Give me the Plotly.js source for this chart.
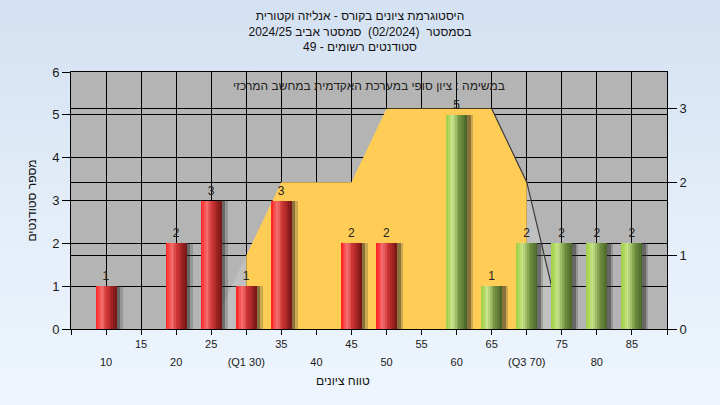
<!DOCTYPE html>
<html><head><meta charset="utf-8">
<script src="https://cdn.plot.ly/plotly-3.0.1.min.js"></script>
<style>
html,body{margin:0;padding:0;width:720px;height:405px;overflow:hidden;background:linear-gradient(to bottom,#d4e1f2 0%,#e4eef9 55%,#eef5fd 100%);}
#chart{width:720px;height:405px;}
</style></head><body><div id="chart"></div>
<script>
// ---- data ----
const categories = [10,15,20,25,30,35,40,45,50,55,60,65,70,75,80,85];
const counts     = [1,0,2,3,1,3,0,2,2,0,5,1,2,2,2,2];
const tickLabels = ['10','15','20','25','(Q1 30)','35','40','45','50','55','60','65','(Q3 70)','75','80','85'];
const passMark = 60;
const curveX = [25,30,35,40,45,50,55,60,65,70,75];
const curveY = [0,1,2,2,2,3,3,3,3,2,0];
const q1 = 30, q3 = 70;
const titleLines = ['היסטוגרמת ציונים בקורס - אנליזה וקטורית','בסמסטר  (02/2024)  סמסטר אביב 2024/25','סטודנטים רשומים - 49'];
const subTitle = 'במשימה : ציון סופי במערכת האקדמית במחשב המרכזי';
const yTitle = 'מספר סטודנטים';
const xTitle = 'טווח ציונים';

// ---- styling helpers ----
const FONT = 'Liberation Sans, Arial, sans-serif';
const redStops   = [[0,[255,28,28]],[0.3,[244,110,110]],[0.55,[205,52,52]],[1,[115,20,20]]];
const greenStops = [[0,[158,206,64]],[0.3,[202,228,140]],[0.6,[122,154,70]],[1,[70,96,38]]];
function grad(stops,t){
  for(let k=0;k<stops.length-1;k++){
    const [a,ca]=stops[k],[b,cb]=stops[k+1];
    if(t<=b){const f=(t-a)/(b-a);return 'rgb('+ca.map((c,j)=>Math.round(c+(cb[j]-c)*f)).join(',')+')';}
  }
  const c=stops[stops.length-1][1];return 'rgb('+c.join(',')+')';
}
const BW = 0.6*5, N = 12;
const traces = [];

// area (right axis)
traces.push({type:'scatter',x:curveX,y:curveY,mode:'lines',fill:'tozeroy',fillcolor:'rgba(255,255,255,0.16)',line:{width:0},xaxis:'x',yaxis:'y',hoverinfo:'skip',showlegend:false});
const inX=[],inY=[];
curveX.forEach((x,i)=>{if(x>=q1&&x<=q3){inX.push(x);inY.push(curveY[i]);}});
traces.push({type:'scatter',x:inX,y:inY,mode:'lines',fill:'tozeroy',fillcolor:'#ffcc55',line:{width:0},xaxis:'x',yaxis:'y',hoverinfo:'skip',showlegend:false});
const mx=Math.max(...curveY);let last=0;curveY.forEach((v,i)=>{if(v===mx)last=i;});
traces.push({type:'scatter',x:curveX.slice(last),y:curveY.slice(last),mode:'lines',line:{color:'#3a3a3a',width:1.2},xaxis:'x',yaxis:'y',hoverinfo:'skip',showlegend:false});

// shadows
traces.push({type:'bar',x:categories,y:counts,width:0.1*5,offset:0.3*5,marker:{color:'rgba(40,40,40,0.55)'},xaxis:'x',yaxis:'y2',hoverinfo:'skip',showlegend:false});
traces.push({type:'bar',x:categories,y:counts,width:0.07*5,offset:0.4*5,marker:{color:'rgba(60,60,60,0.25)'},xaxis:'x',yaxis:'y2',hoverinfo:'skip',showlegend:false});

// cylinder bars
for(let i=0;i<N;i++){
  const t=(i+0.5)/N;
  const tr={type:'bar',x:categories,y:counts,offset:-BW/2+i*BW/N,width:BW-i*BW/N,
    marker:{color:categories.map(c=>c>=passMark?grad(greenStops,t):grad(redStops,t)),line:{width:0}},
    xaxis:'x',yaxis:'y2',hoverinfo:'skip',showlegend:false};
  if(i===0){tr.text=counts.map(v=>v>0?String(v):'');tr.textposition='outside';tr.textfont={family:FONT,size:12,color:'#222'};tr.cliponaxis=false;}
  traces.push(tr);
}
traces.push({type:'scatter',x:categories,y:counts,mode:'none',xaxis:'x2',yaxis:'y2',hoverinfo:'skip',showlegend:false});

const lo = categories[0]-5, hi = categories[categories.length-1]+5;
const layout = {
  width:720,height:405,margin:{l:71,r:53,t:72,b:76},
  paper_bgcolor:'rgba(0,0,0,0)',plot_bgcolor:'#b4b4b4',
  barmode:'overlay',bargap:0,
  font:{family:FONT,color:'#1a1a1a'},
  title:{text:titleLines.join('<br>'),x:0.5,xref:'container',y:0.95,yanchor:'top',font:{family:FONT,size:12,color:'#111'}},
  xaxis:{range:[lo,hi],tickmode:'array',tickvals:[lo].concat(categories,[hi]),
    ticktext:[''].concat(tickLabels.map((l,i)=>i%2===1?l:''),['']),
    ticks:'outside',ticklen:5,tickcolor:'#000',showgrid:true,gridcolor:'#000',gridwidth:1,
    showline:true,linecolor:'#000',mirror:true,zeroline:false,tickfont:{size:11,color:'#1a1a1a'},fixedrange:true},
  xaxis2:{overlaying:'x',anchor:'y2',side:'bottom',range:[lo,hi],tickmode:'array',tickvals:categories,
    ticktext:tickLabels.map((l,i)=>i%2===0?l:''),ticks:'',showgrid:false,showline:false,zeroline:false,
    ticklabelstandoff:25,tickfont:{size:11,color:'#1a1a1a'}},
  yaxis:{side:'right',range:[0,3.5],tickvals:[0,1,2,3],ticks:'outside',ticklen:9,tickcolor:'#000',
    showgrid:true,gridcolor:'#000',gridwidth:1,showline:true,linecolor:'#000',zeroline:false,
    tickfont:{size:13,color:'#1a1a1a'}},
  yaxis2:{overlaying:'y',side:'left',range:[0,6],dtick:1,ticks:'outside',ticklen:8,tickcolor:'#000',
    showgrid:true,gridcolor:'#000',gridwidth:1,showline:true,linecolor:'#000',zeroline:false,
    tickfont:{size:13,color:'#1a1a1a'},title:{text:yTitle,font:{size:12,color:'#111'},standoff:12}},
  annotations:[
    {text:subTitle,xref:'paper',yref:'paper',x:0.5,y:0.945,yanchor:'middle',showarrow:false,font:{size:12,color:'#222'}},
    {text:xTitle,xref:'paper',yref:'paper',x:0.456,y:-0.202,yanchor:'middle',showarrow:false,font:{size:12,color:'#111'}}
  ]
};
Plotly.newPlot('chart',traces,layout,{staticPlot:true,displayModeBar:false});
</script></body></html>
